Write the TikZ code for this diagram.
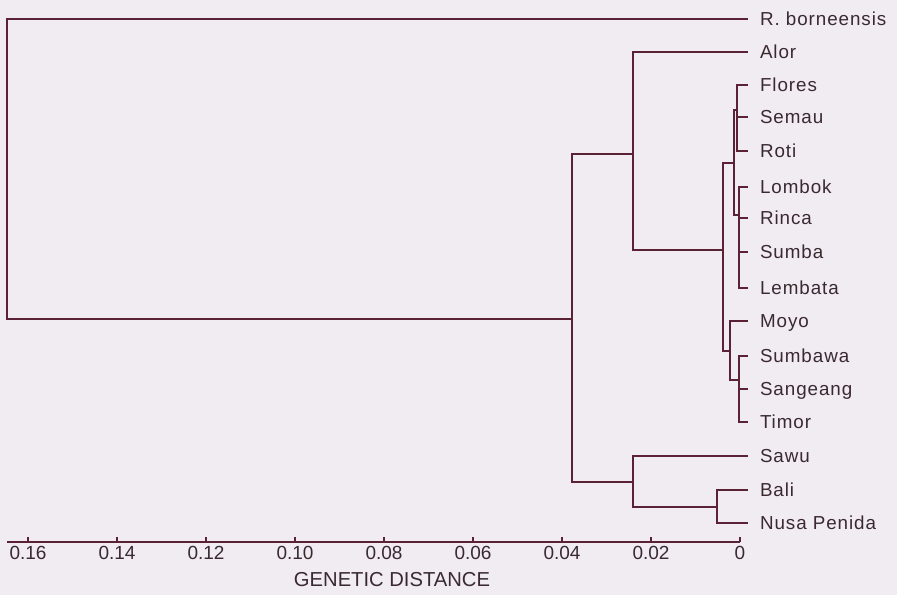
\documentclass[tikz,border=0pt]{standalone}
\usepackage{fontspec}
\setmainfont{Liberation Sans}
\newfontfamily\lblfont[LetterSpace=5]{Liberation Sans}
\definecolor{bgc}{HTML}{F0ECF1}
\definecolor{brc}{HTML}{5B2236}
\definecolor{txc}{HTML}{3A2A30}
\begin{document}
\begin{tikzpicture}[x=1pt,y=-1pt,
  branch/.style={draw=brc,line width=1.8pt},
  leaf/.style={anchor=west,inner xsep=12pt,inner ysep=0pt,outer sep=0pt,
    text height=13.5pt,text depth=0pt,text=txc,
    font=\lblfont\fontsize{18.8}{20}\selectfont},
  ticklbl/.style={anchor=north,inner sep=0pt,text=txc,
    font=\fontsize{19}{20}\selectfont},
  axtitle/.style={anchor=center,inner sep=0pt,text=txc,
    font=\fontsize{20.2}{22}\selectfont}]
\fill[bgc] (0,0) rectangle (897,595);
\useasboundingbox (0,0) rectangle (897,595);
% leaves
\node[leaf] (rb) at (748,19) {R. borneensis};
\node[leaf] (alor) at (748,52) {Alor};
\node[leaf] (flores) at (748,85) {Flores};
\node[leaf] (semau) at (748,117) {Semau};
\node[leaf] (roti) at (748,151) {Roti};
\node[leaf] (lombok) at (748,187) {Lombok};
\node[leaf] (rinca) at (748,218) {Rinca};
\node[leaf] (sumba) at (748,252) {Sumba};
\node[leaf] (lembata) at (748,288) {Lembata};
\node[leaf] (moyo) at (748,321) {Moyo};
\node[leaf] (sumbawa) at (748,356) {Sumbawa};
\node[leaf] (sangeang) at (748,389) {Sangeang};
\node[leaf] (timor) at (748,422) {Timor};
\node[leaf] (sawu) at (748,456) {Sawu};
\node[leaf] (bali) at (748,490) {Bali};
\node[leaf] (nusa) at (748,523) {Nusa Penida};
% internal nodes (x of node, y of attachment)
\coordinate (fsr) at (737,110);
\coordinate (lrsl) at (739,215);
\coordinate (n1) at (734,163);
\coordinate (sst) at (739,380);
\coordinate (mo) at (730,351);
\coordinate (n2) at (723,250);
\coordinate (al) at (633,154);
\coordinate (bn) at (717,507);
\coordinate (sw) at (633,482);
\coordinate (ingrp) at (572,319);
\coordinate (root) at (7,170);
% branches
\draw[branch] (fsr) |- (flores.west) (fsr) |- (semau.west) (fsr) |- (roti.west);
\draw[branch] (lrsl) |- (lombok.west) (lrsl) |- (rinca.west) (lrsl) |- (sumba.west) (lrsl) |- (lembata.west);
\draw[branch] (n1) |- (fsr) (n1) |- (lrsl);
\draw[branch] (sst) |- (sumbawa.west) (sst) |- (sangeang.west) (sst) |- (timor.west);
\draw[branch] (mo) |- (moyo.west) (mo) |- (sst);
\draw[branch] (n2) |- (n1) (n2) |- (mo);
\draw[branch] (al) |- (alor.west) (al) |- (n2);
\draw[branch] (bn) |- (bali.west) (bn) |- (nusa.west);
\draw[branch] (sw) |- (sawu.west) (sw) |- (bn);
\draw[branch] (ingrp) |- (al) (ingrp) |- (sw);
\draw[branch] (root) |- (rb.west) (root) |- (ingrp);
% axis
\coordinate (axl) at (7,542);
\coordinate (axr) at (740,542);
\draw[branch,line width=1.7pt] (axl) -- (axr);
\foreach \x/\l in {740/0,651/0.02,562/0.04,473/0.06,384/0.08,295/0.10,206/0.12,117/0.14,28/0.16}{
  \draw[branch,line width=1.2pt] (\x,542) -- (\x,537);
  \node[ticklbl] at (\x,546) {\l};
}
\node[axtitle] (title) at (392,580) {GENETIC DISTANCE};
\end{tikzpicture}
\end{document}
